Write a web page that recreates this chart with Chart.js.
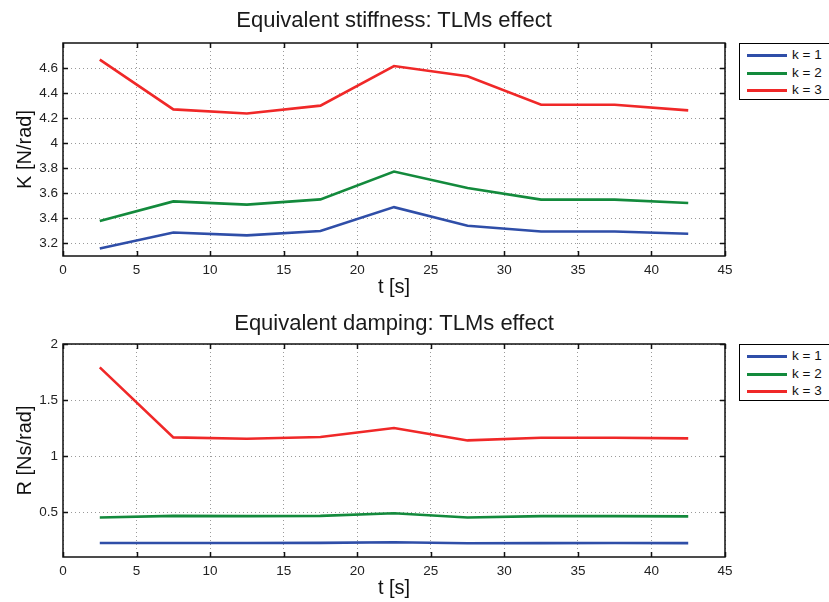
<!DOCTYPE html>
<html>
<head>
<meta charset="utf-8">
<script src="https://cdn.jsdelivr.net/npm/chart.js@4"></script>
<style>
  html, body { margin: 0; padding: 0; background: #fff; }
  body { width: 829px; height: 602px; position: relative; overflow: hidden; font-family: "Liberation Sans", Arial, sans-serif; }
  .plot { position: absolute; left: 0; width: 829px; height: 301px; }
  .title { position: absolute; left: 63px; width: 662px; text-align: center; font-size: 22px; line-height: 26px; color: #1a1a1a; }
  .legend { position: absolute; left: 739px; width: 110px; height: 55px; border: 1px solid #000; background: #fff; }
  .legend .row { position: absolute; left: 0; height: 18px; width: 110px; }
  .legend .ln { position: absolute; left: 7px; top: 8px; width: 40px; height: 3px; }
  .legend .tx { position: absolute; left: 52px; top: 0; font-size: 13.5px; line-height: 18px; color: #111; }
</style>
</head>
<body>
<div class="plot" style="top:0"><canvas id="stiff"></canvas></div>
<div class="plot" style="top:301px"><canvas id="damp"></canvas></div>
<div class="title" style="top:7px">Equivalent stiffness: TLMs effect</div>
<div class="title" style="top:310px">Equivalent damping: TLMs effect</div>
<div class="legend" id="leg1" style="top:43px"></div>
<div class="legend" id="leg2" style="top:344px"></div>
<script>
const tValues = [2.5, 7.5, 12.5, 17.5, 22.5, 27.5, 32.5, 37.5, 42.5];
const seriesNames = ['k = 1', 'k = 2', 'k = 3'];
const seriesColors = ['#2f4ea8', '#138a3c', '#f02828'];

const stiffK1 = [3.16, 3.288, 3.265, 3.30, 3.49, 3.342, 3.296, 3.296, 3.278];
const stiffK2 = [3.379, 3.536, 3.51, 3.552, 3.774, 3.643, 3.55, 3.55, 3.523];
const stiffK3 = [4.667, 4.27, 4.237, 4.30, 4.616, 4.534, 4.307, 4.307, 4.262];

const dampK1 = [0.225, 0.225, 0.225, 0.226, 0.232, 0.222, 0.224, 0.225, 0.224];
const dampK2 = [0.453, 0.467, 0.465, 0.467, 0.49, 0.453, 0.465, 0.465, 0.462];
const dampK3 = [1.792, 1.167, 1.155, 1.17, 1.25, 1.14, 1.164, 1.164, 1.158];

const xTicks = [0, 5, 10, 15, 20, 25, 30, 35, 40, 45];
const stiffTicks = [3.2, 3.4, 3.6, 3.8, 4, 4.2, 4.4, 4.6];
const dampTicks = [0.5, 1, 1.5, 2];

const FONT = '"Liberation Sans", Arial, sans-serif';

// black box around plot area + inward tick marks (like matlab)
const framePlugin = {
    id: 'frame',
    afterDraw(chart) {
        const { ctx, chartArea: a, scales } = chart;
        ctx.save();
        ctx.strokeStyle = '#111';
        ctx.lineWidth = 1.5;
        ctx.beginPath();
        scales.x.ticks.forEach(t => {
            const px = Math.round(scales.x.getPixelForValue(t.value)) + 0.5;
            ctx.moveTo(px, a.bottom); ctx.lineTo(px, a.bottom - 5);
            ctx.moveTo(px, a.top); ctx.lineTo(px, a.top + 5);
        });
        scales.y.ticks.forEach(t => {
            const py = Math.round(scales.y.getPixelForValue(t.value)) + 0.5;
            ctx.moveTo(a.left, py); ctx.lineTo(a.left + 5, py);
            ctx.moveTo(a.right, py); ctx.lineTo(a.right - 5, py);
        });
        ctx.stroke();
        ctx.strokeRect(a.left, a.top, a.right - a.left, a.bottom - a.top);
        ctx.restore();
    }
};

function makeChart(id, yLabel, series, yMin, yMax, yTicks) {
    const ctx = document.getElementById(id).getContext('2d');
    return new Chart(ctx, {
        type: 'line',
        data: {
            datasets: series.map((vals, i) => ({
                label: seriesNames[i],
                data: tValues.map((t, j) => ({ x: t, y: vals[j] })),
                borderColor: seriesColors[i],
                backgroundColor: seriesColors[i],
                borderWidth: 2.6,
                pointRadius: 0,
                tension: 0
            }))
        },
        options: {
            responsive: false,
            animation: false,
            layout: { padding: { top: 43, right: 104, bottom: 0, left: 0 } },
            plugins: {
                legend: { display: false },
                tooltip: { enabled: false },
                title: { display: false }
            },
            scales: {
                x: {
                    type: 'linear',
                    min: 0, max: 45,
                    afterBuildTicks: s => { s.ticks = xTicks.map(v => ({ value: v })); },
                    afterFit: s => { s.height = 45; },
                    grid: { color: '#9a9a9a', lineWidth: 1, drawTicks: false },
                    border: { display: false, dash: [1, 3] },
                    ticks: { color: '#222', font: { family: FONT, size: 13.5 }, padding: 6, maxRotation: 0 },
                    title: { display: true, text: 't [s]', color: '#111', font: { family: FONT, size: 20 }, padding: { top: 0, bottom: 2 } }
                },
                y: {
                    type: 'linear',
                    min: yMin, max: yMax,
                    afterBuildTicks: s => { s.ticks = yTicks.map(v => ({ value: v })); },
                    afterFit: s => { s.width = 63; },
                    grid: { color: '#9a9a9a', lineWidth: 1, drawTicks: false },
                    border: { display: false, dash: [1, 3] },
                    ticks: {
                        color: '#222', font: { family: FONT, size: 13.5 }, padding: 5,
                        callback: v => String(+v.toFixed(2))
                    },
                    title: { display: true, text: yLabel, color: '#111', font: { family: FONT, size: 20 }, padding: { top: 13, bottom: 0 } }
                }
            }
        },
        plugins: [framePlugin]
    });
}

function sizeCanvas(id) {
    const c = document.getElementById(id);
    c.width = 829; c.height = 301;
    c.style.width = '829px'; c.style.height = '301px';
}
sizeCanvas('stiff');
sizeCanvas('damp');

makeChart('stiff', 'K [N/rad]', [stiffK1, stiffK2, stiffK3], 3.1, 4.8, stiffTicks);
makeChart('damp', 'R [Ns/rad]', [dampK1, dampK2, dampK3], 0.1, 2, dampTicks);

function buildLegend(id) {
    const box = document.getElementById(id);
    seriesNames.forEach((name, i) => {
        const row = document.createElement('div');
        row.className = 'row';
        row.style.top = (2 + i * 17.5) + 'px';
        row.innerHTML = '<div class="ln" style="background:' + seriesColors[i] + '"></div><div class="tx">' + name + '</div>';
        box.appendChild(row);
    });
}
buildLegend('leg1');
buildLegend('leg2');
</script>
</body>
</html>
